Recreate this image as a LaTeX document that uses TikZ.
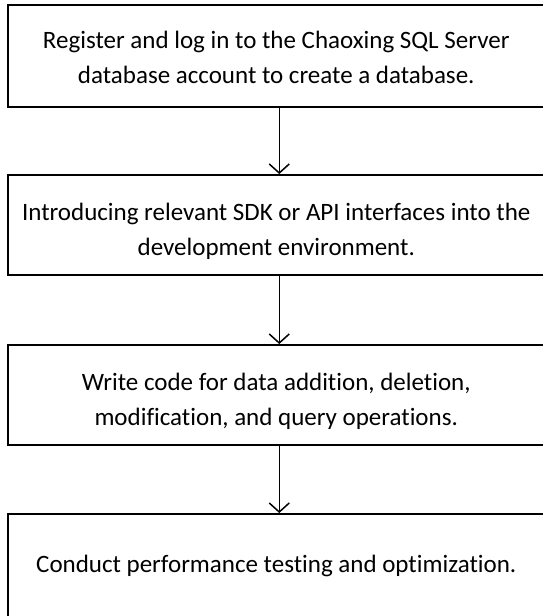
\documentclass[tikz,border=0pt]{standalone}
\usepackage{fontspec}
\setmainfont{Carlito}[RawFeature={-liga}]
\usetikzlibrary{arrows.meta}
\begin{document}
\begin{tikzpicture}[x=1pt,y=1pt,
  stepbox/.style={draw=black,line width=2pt,minimum width=537.5pt,inner sep=0pt},
  steptext/.style={align=center,inner sep=0pt,font=\fontsize{25}{35}\selectfont,text=black},
  arr/.style={line width=1.5pt,-{Straight Barb[length=9pt,width=20pt,line width=1.5pt]}}]
\useasboundingbox (0,0) rectangle (543,-616);
\node[stepbox,minimum height=102pt] (b1) at (276.25,-56) {};
\node[stepbox,minimum height=100pt] (b2) at (276.25,-225) {};
\node[stepbox,minimum height=100pt] (b3) at (276.25,-395) {};
\node[stepbox,minimum height=104pt] (b4) at (276.25,-566) {};
\node[steptext] (t1) at ([yshift=-1pt]b1.center) {Register and log in to the Chaoxing SQL Server\\database account to create a database.};
\node[steptext] (t2) at ([yshift=-6pt]b2.center) {Introducing relevant SDK or API interfaces into the\\development environment.};
\node[steptext] (t3) at ([yshift=-6pt]b3.center) {Write code for data addition, deletion,\\modification, and query operations.};
\node[steptext] (t4) at (b4.center) {Conduct performance testing and optimization.};
\draw[arr] ([xshift=3pt]b1.south) -- ([xshift=3pt]b2.north);
\draw[arr] ([xshift=3pt]b2.south) -- ([xshift=3pt]b3.north);
\draw[arr] ([xshift=3pt]b3.south) -- ([xshift=3pt]b4.north);
\end{tikzpicture}
\end{document}
